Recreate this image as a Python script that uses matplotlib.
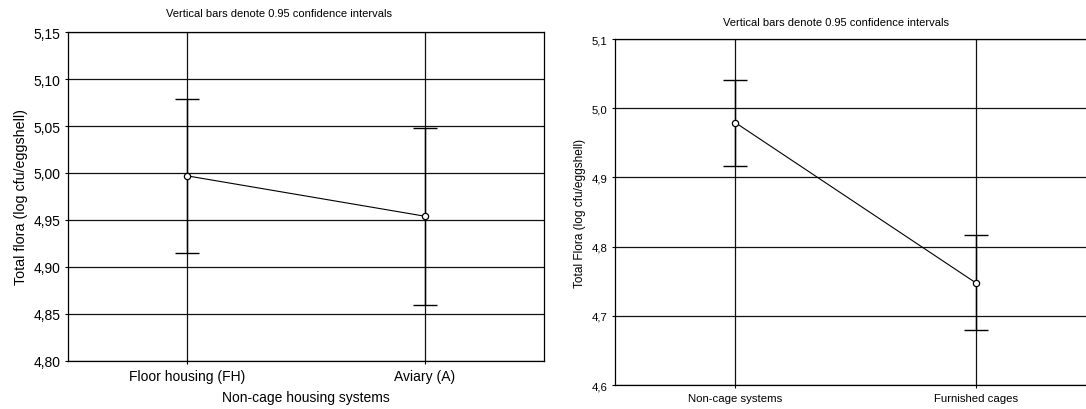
import matplotlib
matplotlib.use("Agg")
import matplotlib.pyplot as plt
import numpy as np

plt.rcParams['font.family'] = ['Liberation Sans', 'DejaVu Sans']

# left panel: non-cage housing systems
left_cats = ["Floor housing (FH)", "Aviary (A)"]
left_mean = [4.997, 4.954]
left_lo = [4.915, 4.860]
left_hi = [5.079, 5.048]
left_ticks = [4.80, 4.85, 4.90, 4.95, 5.00, 5.05, 5.10, 5.15]

# right panel: non-cage vs furnished cages
right_cats = ["Non-cage systems", "Furnished cages"]
right_mean = [4.979, 4.747]
right_lo = [4.916, 4.679]
right_hi = [5.041, 4.817]
right_ticks = [4.6, 4.7, 4.8, 4.9, 5.0, 5.1]

title = "Vertical bars denote 0.95 confidence intervals"

fig = plt.figure(figsize=(10.86, 4.10), dpi=100)
ax1 = fig.add_axes([0.0626, 0.1171, 0.4383, 0.8024])
ax2 = fig.add_axes([0.5663, 0.0585, 0.4438, 0.8439])


def panel(ax, cats, mean, lo, hi, ticks, fmt, fs, ylabel, yfs, cap):
    x = np.arange(len(cats))
    mean = np.array(mean)
    yerr = [mean - np.array(lo), np.array(hi) - mean]
    for t in ticks:
        ax.axhline(t, color="#111111", lw=0.9, zorder=1)
    for xi in x:
        ax.axvline(xi, color="#111111", lw=0.9, zorder=1)
    ax.errorbar(x, mean, yerr=yerr, fmt="none", ecolor="black", elinewidth=1.0,
                capsize=cap, capthick=1.0, zorder=2)
    ax.plot(x, mean, color="black", lw=0.8, marker="o", markersize=4.5,
            markerfacecolor="white", markeredgecolor="black", markeredgewidth=0.9, zorder=3)
    ax.set_xlim(-0.5, 1.5)
    ax.set_ylim(ticks[0], ticks[-1])
    ax.set_yticks(ticks)
    ax.set_yticklabels([fmt.format(t).replace(".", ",") for t in ticks], fontsize=fs)
    ax.set_xticks(x)
    ax.set_xticklabels(cats, fontsize=fs)
    ax.tick_params(length=2, width=0.8, color="black", pad=3.5)
    for s in ax.spines.values():
        s.set_linewidth(0.9)
        s.set_color("black")
    ax.set_ylabel(ylabel, fontsize=yfs, labelpad=4)


panel(ax1, left_cats, left_mean, left_lo, left_hi, left_ticks, "{:.2f}", 10,
      "Total flora (log cfu/eggshell)", 10.3, 8.5)
panel(ax2, right_cats, right_mean, right_lo, right_hi, right_ticks, "{:.1f}", 8.2,
      "Total Flora (log cfu/eggshell)", 8.6, 8.5)
ax1.set_xlabel("Non-cage housing systems", fontsize=10, labelpad=5)

fig.text(0.257, 0.966, title, ha="center", va="center", fontsize=8)
fig.text(0.770, 0.945, title, ha="center", va="center", fontsize=8)

fig.savefig("out.png", dpi=100)
